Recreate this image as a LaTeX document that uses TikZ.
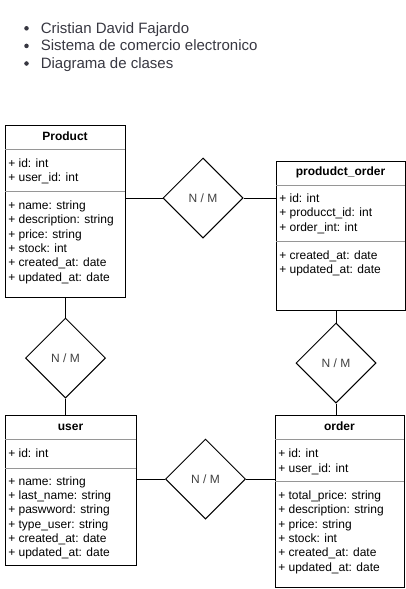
\documentclass[tikz,border=0pt]{standalone}
\usepackage{fontspec}
\setmainfont{Liberation Sans}
\usetikzlibrary{shapes.geometric}

\definecolor{listgray}{RGB}{55,55,65}
\definecolor{sepgray}{RGB}{150,150,150}

\tikzset{
    classbox/.style={draw, line width=0.75pt, anchor=north west, inner sep=0pt},
    classtitle/.style={font=\bfseries\fontsize{9}{10}\selectfont, inner sep=0pt, text height=6.5pt, text depth=0pt},
    attr/.style={font=\fontsize{9}{10}\selectfont, anchor=west, inner sep=0pt, text height=6.5pt, text depth=0pt},
    sepline/.style={sepgray, line width=0.75pt},
    relation/.style={diamond, draw, aspect=1, line width=0.75pt, minimum size=60pt, inner sep=0pt,
        font=\fontsize{9}{10}\selectfont, text=black!75, text height=6.5pt, text depth=0pt},
    link/.style={line width=0.75pt},
    item/.style={font=\fontsize{11.25}{13}\selectfont, text=listgray, anchor=base west, inner sep=0pt}
}

\begin{document}
\begin{tikzpicture}[x=0.75pt, y=-0.75pt]
    % Canvas
    \useasboundingbox (0,0) rectangle (406,589);

    % Bullet list on top
    \foreach \txt [count=\i from 0] in {Cristian David Fajardo, Sistema de comercio electronico, Diagrama de clases} {
        \fill[listgray] (26.5,28.3+17.6*\i) circle (1.7pt);
        \node[item] (item\i) at (40.5,33.3+17.6*\i) {\txt};
    }

    % Product
    \node[classbox, minimum width=90pt, minimum height=129pt] (product) at (5,125) {};
    \node[classtitle] (product-title) at (65,136) {Product};
    \draw[sepline] (5,149.5) -- (125,149.5);
    \draw[sepline] (5,191) -- (125,191);
    \foreach \a [count=\i from 0] in {+ id: int, + user\_id: int}
        \node[attr] (product-k\i) at (8,163+14.4*\i) {\a};
    \foreach \a [count=\i from 0] in {+ name: string, + description: string, + price: string, + stock: int, + created\_at: date, + updated\_at: date}
        \node[attr] (product-a\i) at (8,205+14.4*\i) {\a};

    % produdct_order
    \node[classbox, minimum width=96.75pt, minimum height=111.75pt] (product-order) at (276,161) {};
    \node[classtitle] (product-order-title) at (340.5,171.5) {produdct\_order};
    \draw[sepline] (276,185) -- (405,185);
    \draw[sepline] (276,241) -- (405,241);
    \foreach \a [count=\i from 0] in {+ id: int, + producct\_id: int, + order\_int: int}
        \node[attr] (product-order-k\i) at (279,198+14.4*\i) {\a};
    \foreach \a [count=\i from 0] in {+ created\_at: date, + updated\_at: date}
        \node[attr] (product-order-a\i) at (279,255+14.4*\i) {\a};

    % user
    \node[classbox, minimum width=98.25pt, minimum height=112.5pt] (user) at (5,415) {};
    \node[classtitle] (user-title) at (70.5,425.8) {user};
    \draw[sepline] (5,439.5) -- (136,439.5);
    \draw[sepline] (5,468) -- (136,468);
    \node[attr] (user-k0) at (8,453.5) {+ id: int};
    \foreach \a [count=\i from 0] in {+ name: string, + last\_name: string, + paswword: string, + type\_user: string, + created\_at: date, + updated\_at: date}
        \node[attr] (user-a\i) at (8,481+14.3*\i) {\a};

    % order
    \node[classbox, minimum width=96.75pt, minimum height=129pt] (order) at (275,415) {};
    \node[classtitle] (order-title) at (339.5,425.8) {order};
    \draw[sepline] (275,439.5) -- (404,439.5);
    \draw[sepline] (275,481) -- (404,481);
    \foreach \a [count=\i from 0] in {+ id: int, + user\_id: int}
        \node[attr] (order-k\i) at (278,453+15*\i) {\a};
    \foreach \a [count=\i from 0] in {+ total\_price: string, + description: string, + price: string, + stock: int, + created\_at: date, + updated\_at: date}
        \node[attr] (order-a\i) at (278,495+14.4*\i) {\a};

    % Relations
    \node[relation] (rel-po) at (203,198) {N / M};
    \node[relation] (rel-pu) at (65.5,358) {N / M};
    \node[relation] (rel-oo) at (336,363) {N / M};
    \node[relation] (rel-uo) at (205.5,479) {N / M};

    % Links
    \draw[link] (rel-po.west) -- (rel-po.west -| product.east);
    \draw[link] (rel-po.east) -- (rel-po.east -| product-order.west);
    \draw[link] (rel-pu.north) -- (rel-pu.north |- product.south);
    \draw[link] (rel-pu.south) -- (rel-pu.south |- user.north);
    \draw[link] (rel-oo.north) -- (rel-oo.north |- product-order.south);
    \draw[link] (rel-oo.south) -- (rel-oo.south |- order.north);
    \draw[link] (rel-uo.west) -- (rel-uo.west -| user.east);
    \draw[link] (rel-uo.east) -- (rel-uo.east -| order.west);
\end{tikzpicture}
\end{document}
